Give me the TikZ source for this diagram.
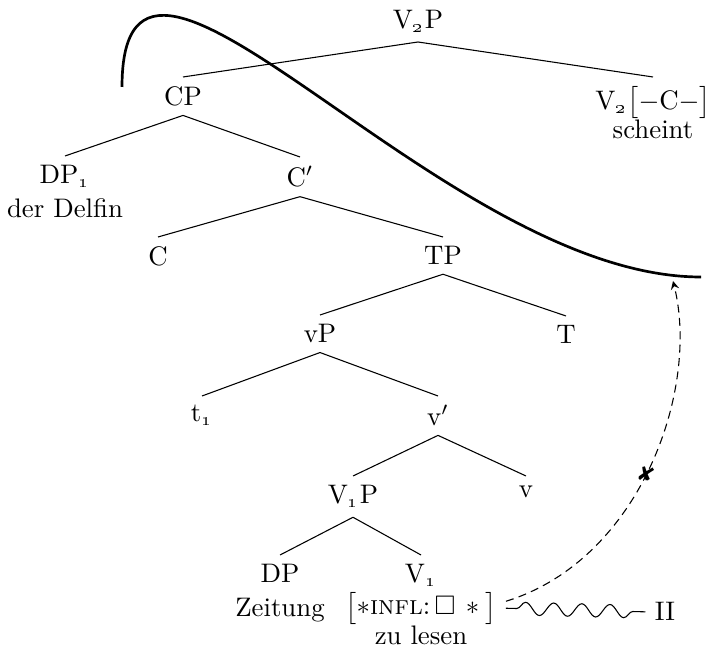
\documentclass[tikz,border=0pt]{standalone}
\usepackage{amssymb}
\usepackage{pifont}
\usetikzlibrary{decorations.pathmorphing}

% old-style index below the label
\newcommand{\ix}[1]{\textsubscript{\oldstylenums{#1}}}

\begin{document}
\begin{tikzpicture}[x=0.3731pt, y=-0.3731pt,
    cat/.style={anchor=north},
    word/.style={anchor=base},
    branch/.style={line width=0.4pt}]
            \useasboundingbox (0,0) rectangle (707,662);

            % Draw the category labels
            \node[anchor=south] (v2p) at (418,42) {V\ix{2}P};
            \node[cat] (cp) at (183,77) {CP};
            \node[cat] (v2) at (653,77) {V\ix{2}$\big[-$C$-\big]$};
            \node[cat] (dp1) at (65,156) {DP\ix{1}};
            \node[cat] (cbar) at (300,157) {C$'$};
            \node[cat] (c) at (158,237) {C};
            \node[cat] (tp) at (443,237) {TP};
            \node[cat] (vp) at (320,315) {vP};
            \node[cat] (tt) at (566,316) {T};
            \node[cat] (t1) at (202,396) {t\ix{1}};
            \node[cat] (vbar) at (438,396) {v$'$};
            \node[cat] (v1p) at (353,476) {V\ix{1}P};
            \node[cat] (vv) at (526,476) {v};
            \node[cat] (dp) at (280,555) {DP};
            \node[cat] (v1) at (421,555) {V\ix{1}};

            % Words and features under the terminals
            \node[word] (scheint) at ([yshift=-11pt]v2.base) {scheint};
            \node[word] (delfin) at ([yshift=-12.5pt]dp1.base) {der Delfin};
            \node[word] (zeitung) at ([yshift=-12.5pt]dp.base) {Zeitung};
            \node[word] (feat) at ([yshift=-12pt]v1.base) {$\big[\ast$\textsc{infl}:\,$\square\,\ast\big]$};
            \node[word] (lesen) at ([yshift=-11pt]feat.base) {zu lesen};
            \node[word] (ii) at (665,621) {II};

            % Draw the branches
            \draw[branch] (v2p.south) -- (cp.north);
            \draw[branch] (v2p.south) -- (v2.north);
            \draw[branch] (cp.south) -- (dp1.north);
            \draw[branch] (cp.south) -- (cbar.north);
            \draw[branch] (cbar.south) -- (c.north);
            \draw[branch] (cbar.south) -- (tp.north);
            \draw[branch] (tp.south) -- (vp.north);
            \draw[branch] (tp.south) -- (tt.north);
            \draw[branch] (vp.south) -- (t1.north);
            \draw[branch] (vp.south) -- (vbar.north);
            \draw[branch] (vbar.south) -- (v1p.north);
            \draw[branch] (vbar.south) -- (vv.north);
            \draw[branch] (v1p.south) -- (dp.north);
            \draw[branch] (v1p.south) -- (v1.north);

            % Draw the big curve over the clause
            \draw[line width=1pt] (122,87) .. controls (122,-150) and (440,277) .. (701,277);
            \coordinate (landing) at (673,281);

            % Failed movement and the wavy link
            \draw[-stealth, dash pattern=on 3pt off 2pt] ([yshift=2.6pt]feat.east) .. controls (640,560) and (700,390) .. (landing)
                node[pos=0.48, rotate=-15] {\footnotesize\ding{56}};
            \draw[decorate, decoration={snake, amplitude=2.4pt, segment length=10.5pt, pre length=4pt, post length=1pt}] (feat.east) -- (ii.west);
        \end{tikzpicture}
\end{document}
